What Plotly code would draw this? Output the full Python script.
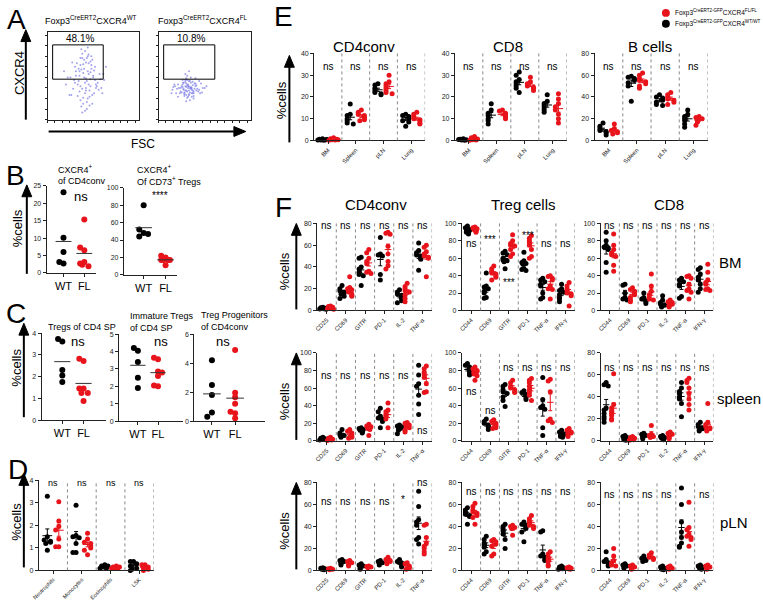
import plotly.graph_objects as go
import numpy as np

W, H = 763, 606
RED = '#e8141c'
BLK = '#000000'
FONT = 'Arial, Liberation Sans, sans-serif'

# ---------------- DATA ----------------
# Panel A flow dots (% of axis range)
flow_wt_x = [30, 35, 38, 42, 45, 48, 40, 36, 44, 50, 52, 33, 28, 47, 41, 39, 55, 43, 37, 46,
             49, 34, 31, 53, 44, 40, 38, 42, 36, 48, 45, 51, 29, 43, 39, 47, 35, 41, 57, 26,
             25, 32, 37, 43, 49, 54, 58, 46, 39, 34, 30, 42, 47, 52, 36, 41, 45, 50, 38, 44,
             33, 48, 53, 40, 35, 46, 42, 37, 51, 44, 39, 31, 56, 47, 43, 36, 49, 41, 45, 38,
             20, 62, 18, 60, 24, 64, 22, 59, 27, 61]
flow_wt_y = [60, 55, 70, 65, 52, 58, 48, 62, 72, 50, 45, 40, 35, 38, 30, 25, 42, 20, 15, 33,
             28, 44, 50, 36, 55, 68, 75, 47, 22, 62, 40, 30, 45, 12, 53, 66, 32, 78, 52, 28,
             48, 64, 57, 44, 68, 38, 46, 26, 18, 58, 42, 36, 54, 60, 70, 10, 64, 48, 35, 82,
             27, 72, 40, 58, 50, 16, 33, 80, 56, 24, 63, 55, 34, 46, 70, 38, 18, 42, 74, 8,
             40, 45, 55, 30, 28, 60, 48, 36, 65, 52]
flow_fl_x = [20, 25, 28, 30, 32, 35, 38, 40, 27, 33, 36, 22, 29, 31, 34, 37, 42, 45, 24, 26,
             30, 33, 38, 41, 35, 28, 31, 36, 48, 18, 23, 39, 44, 29, 34, 32, 27, 37, 30, 33,
             26, 30, 34, 29, 33, 37, 25, 31, 35, 39, 28, 32, 36, 40, 43, 21, 27, 31, 35, 38,
             24, 29, 33, 30, 34, 28, 36, 41, 32, 26, 30, 35, 37, 46, 19, 33, 29, 31, 38, 27,
             15, 50, 17, 47, 14, 52, 44, 21, 40, 16]
flow_fl_y = [35, 38, 30, 33, 40, 36, 32, 38, 42, 28, 34, 36, 45, 25, 31, 43, 35, 30, 32, 40,
             37, 44, 27, 33, 48, 29, 39, 26, 36, 38, 30, 41, 34, 52, 22, 36, 35, 30, 47, 38,
             37, 41, 36, 33, 29, 39, 31, 45, 42, 35, 27, 38, 30, 41, 32, 40, 34, 50, 37, 24,
             36, 43, 33, 28, 44, 31, 36, 39, 26, 45, 21, 35, 33, 41, 30, 55, 38, 32, 30, 42,
             34, 36, 40, 31, 30, 38, 44, 26, 47, 37]
gate_pct = ['48.1%', '10.8%']

# Panel B
b1_wt = [23.2, 10.1, 6.0, 2.7, 3.1]
b1_fl = [15.3, 6.5, 7.3, 3.1, 2.7, 1.9, 2.3]
b2_wt = [80, 48, 44, 52, 47]
b2_fl = [20, 22, 17, 17, 17, 17, 11]
# Panel C
c1_wt = [3.62, 3.73, 2.3, 2.05, 1.75]
c1_fl = [2.72, 2.82, 1.45, 1.45, 1.25, 1.25, 0.88]
c2_wt = [4.05, 4.2, 3.4, 2.5, 1.9]
c2_fl = [3.55, 3.65, 2.85, 2.6, 2.0, 2.05, 2.8]
c3_wt = [4.2, 2.5, 1.8, 0.6, 0.3]
c3_fl = [4.9, 1.95, 1.65, 1.2, 0.55, 0.65, 0.2]
# Panel D
d_cats = ['Neutrophils', 'Monocytes', 'Eosinophils', 'LSK']
d_wt = [[3.3, 1.5, 1.35, 1.3, 1.25, 1.2, 0.9],
        [2.9, 1.55, 1.5, 1.45, 1.2, 0.8, 0.8],
        [0.25, 0.2, 0.2, 0.15, 0.1, 0.1],
        [0.4, 0.4, 0.3, 0.2, 0.1, 0.0, 0.05]]
d_fl = [[3.05, 2.2, 1.95, 1.8, 1.4, 1.05, 1.05],
        [1.65, 1.4, 1.25, 1.2, 1.1, 1.0, 0.9, 0.7],
        [0.2, 0.15, 0.15, 0.1, 0.1, 0.1],
        [0.25, 0.25, 0.15, 0.1, 0.05, 0.0]]
# Panel E
e_cats = ['BM', 'Spleen', 'pLN', 'Lung']
e_cd4_wt = [[0.8, 0.5, 0.3, 0.2, 0.1, 0.2, 0.4], [16.7, 12, 11.5, 10, 9, 8, 7.5],
            [26, 25.5, 24, 23, 22, 21.5, 21], [12, 11.5, 11, 10, 9, 8.5, 6.5]]
e_cd4_fl = [[1.2, 0.8, 0.5, 0.3, 0.2, 0.1, 0.3], [14, 13, 12, 11.5, 10.5, 10, 9.5, 9],
            [30, 27, 26, 25, 24, 23, 22, 21.5], [13, 12, 11, 10, 9.5, 9, 8, 7.5]]
e_cd8_wt = [[0.8, 0.5, 0.3, 0.2, 0.1, 0.4], [16.8, 14, 12.5, 11.5, 10, 9, 7.5],
            [31.5, 30, 28, 27, 26, 25, 24, 22], [21, 18, 17, 16, 15, 14, 13]]
e_cd8_fl = [[1.8, 1.2, 0.6, 0.3, 0.2, 0.1], [14, 13.5, 12.5, 12, 11, 10.5, 10],
            [29, 27, 26, 25, 24.5, 24, 23], [21.5, 19, 17, 15.5, 14, 12, 10, 8]]
e_b_wt = [[16, 13, 11, 9, 8, 7, 5], [59, 58, 57, 55, 53, 50, 36],
          [42, 40, 39, 37, 35, 33, 32], [28, 24, 22, 20, 18, 15, 12]]
e_b_fl = [[15, 11, 9, 8, 7, 6], [62, 60, 57, 55, 54, 52, 50, 48],
          [44, 42, 40, 38, 37, 35, 33], [22, 21, 20, 19, 18, 17, 14]]
# Panel F categories
f_cats_cd4 = ['CD25', 'CD69', 'GITR', 'PD-1', 'IL-2', 'TNF-α']
f_cats_treg = ['CD44', 'CD69', 'GITR', 'PD-1', 'TNF-α', 'IFN-γ']
f_cats_cd8 = ['CD44', 'CD69', 'PD-1', 'IL-2', 'TNF-α', 'IFN-γ']
# F - BM
f_bm_cd4_wt = [[3, 2.5, 2, 1.8, 1.5, 1.2, 1], [23, 20, 18, 17, 16, 15, 13, 11],
               [49, 48, 40, 38, 35, 33, 32, 23], [67, 52, 51, 50, 33, 28],
               [19, 17, 15, 14, 12, 11, 9, 7], [62, 55, 53, 51, 50, 48, 47, 37]]
f_bm_cd4_fl = [[4, 3.5, 3, 2.5, 2, 1.5, 1], [31, 21, 20, 19, 18, 17, 15, 14, 13],
               [56, 53, 48, 45, 43, 36, 35, 34], [72, 71, 70, 59, 52, 45, 41, 38],
               [25, 22, 20, 18, 17, 14, 11, 8], [60, 58, 54, 52, 50, 49, 48, 31]]
f_bm_treg_wt = [[97, 95, 93, 92, 91, 90, 89, 88], [43, 28, 27, 25, 22, 20, 15, 14],
                [68, 66, 64, 60, 58, 57, 56, 48], [67, 57, 55, 54, 53, 48, 47, 46],
                [37, 35, 33, 30, 28, 20, 15, 13], [30, 25, 23, 21, 18, 15, 13, 10]]
f_bm_treg_fl = [[96, 95, 94, 93, 92, 91, 90], [51, 48, 45, 43, 42, 40, 38, 35],
                [87, 80, 77, 75, 74, 70, 65, 62], [86, 83, 80, 78, 75, 70, 62, 60],
                [40, 39, 37, 35, 28, 25, 24, 13], [32, 28, 25, 23, 20, 19, 17, 5]]
f_bm_cd8_wt = [[90, 80, 75, 73, 72, 70, 55, 44], [30, 29, 20, 15, 13, 12],
               [20, 15, 13, 11, 10, 8], [17, 12, 9, 7, 6, 5, 4],
               [37, 35, 33, 30, 28, 16, 14], [49, 47, 42, 38, 35, 30, 25, 21]]
f_bm_cd8_fl = [[88, 75, 70, 66, 64, 62, 52, 45], [26, 24, 22, 20, 18, 15, 12, 10],
               [42, 28, 22, 18, 15, 13, 12], [12, 10, 9, 7, 6, 5, 4],
               [40, 39, 37, 30, 25, 23, 21, 13], [53, 44, 35, 32, 30, 25, 24, 23]]
# F - spleen
f_sp_cd4_wt = [[4, 3, 2.5, 2, 1.5, 1], [13, 9, 7, 6, 5, 4], [15, 14, 13, 12, 11, 10, 9],
               [37, 33, 28, 26, 25, 22, 15], [18, 17, 16, 15, 14, 12, 8],
               [86, 75, 65, 62, 52, 42, 30]]
f_sp_cd4_fl = [[4, 3, 2, 1.5, 1, 0.5], [13, 11, 9, 7, 5, 4, 3], [19, 17, 16, 15, 14, 13, 6],
               [43, 35, 33, 30, 28, 25, 15], [21, 20, 18, 17, 15, 12, 10],
               [85, 82, 78, 76, 72, 65, 56, 55]]
f_sp_treg_wt = [[88, 86, 84, 82, 80, 78, 76, 75], [25, 22, 20, 18, 16, 15, 13],
                [64, 62, 58, 56, 54, 50, 46, 39], [57, 55, 53, 51, 49, 47],
                [72, 47, 40, 38, 36, 15, 6], [12, 10, 8, 7, 6, 5, 4]]
f_sp_treg_fl = [[84, 82, 80, 79, 78, 76, 74, 69], [24, 22, 20, 18, 17, 15, 14],
                [69, 66, 62, 60, 58, 56, 55], [71, 69, 66, 62, 58, 55, 52, 46],
                [70, 68, 56, 25, 23, 21], [14, 12, 10, 9, 8, 7, 5]]
f_sp_cd8_wt = [[53, 51, 50, 30, 28, 25, 22, 20, 17], [5, 4, 3, 2, 1, 0.5], [7, 6, 5, 4, 3, 2],
               [5, 4, 3, 2.5, 2, 1], [53, 48, 45, 43, 40, 38, 34, 22], [17, 15, 13, 12, 11, 10, 9]]
f_sp_cd8_fl = [[61, 33, 30, 27, 25, 23, 20, 19], [4, 3, 2.5, 2, 1, 0.5], [14, 6, 5, 4, 3],
               [8, 7, 6, 5, 4, 3, 2], [57, 55, 53, 48, 43, 38, 33, 28],
               [34, 17, 15, 13, 12, 11, 10, 9]]
# F - pLN
f_ln_cd4_wt = [[2.5, 2, 1.5, 1, 0.5], [10, 9, 8, 7, 6, 5], [6, 5, 4, 3, 2, 1], [9, 8, 7, 6, 5],
               [10, 8, 7, 6, 4, 3], [72, 58, 46, 44, 41, 30, 28, 24]]
f_ln_cd4_fl = [[2, 1.5, 1, 0.5], [9, 8, 7, 6, 5, 4], [4, 3.5, 3, 2.5], [12, 10, 9, 8, 7, 6],
               [7, 6, 4, 3, 2, 1], [42, 41, 30, 25, 22, 20, 17, 15]]
f_ln_treg_wt = [[57, 55, 53, 51, 50, 49, 42], [31, 28, 25, 23, 21, 17, 15],
                [42, 40, 38, 36, 33, 28, 20], [44, 42, 41, 40, 38, 35, 26],
                [36, 35, 15, 13, 12, 10, 9], [4, 3, 2.5, 2, 1.5, 1]]
f_ln_treg_fl = [[61, 58, 55, 53, 52, 50, 48, 42], [28, 27, 26, 24, 22, 15, 13],
                [41, 40, 39, 38, 32], [50, 47, 45, 43, 41, 40, 38],
                [17, 15, 12, 10, 8, 5, 4], [3, 2.5, 2, 1.5, 1]]
f_ln_cd8_wt = [[17, 10, 8, 7, 5, 4], [6, 5, 4, 3, 2], [13, 11, 10, 9, 8], [4, 3, 2, 1, 0.5],
               [75, 60, 44, 35, 30, 25, 22, 21], [5, 4, 3, 2.5, 2, 1]]
f_ln_cd8_fl = [[20, 13, 9, 7, 5, 4], [5, 4, 3, 2, 1], [16, 14, 12, 11, 10], [4, 3, 2, 1],
               [62, 39, 37, 33, 31, 30, 28, 22], [5, 4, 3, 2, 1]]

# ---------------- FIGURE ----------------
layout = dict(width=W, height=H, margin=dict(l=0, r=0, t=0, b=0),
              paper_bgcolor='white', plot_bgcolor='white', showlegend=False,
              font=dict(family=FONT, color='black'), hovermode=False)
annotations, shapes, traces = [], [], []
count = [0]


def px(x):
    return x / W


def py(y):
    return 1 - y / H


def new_axes(x0, x1, ytop, ybot, xr, yr, xkw=None, ykw=None):
    count[0] += 1
    i = count[0]
    s = '' if i == 1 else str(i)
    xa = dict(domain=[px(x0), px(x1)], range=xr, anchor='y' + s, showgrid=False,
              zeroline=False, showline=True, linecolor='#222', linewidth=1,
              ticks='outside', ticklen=3, tickcolor='#222',
              tickfont=dict(size=6, color='#222'), fixedrange=True)
    ya = dict(domain=[py(ybot), py(ytop)], range=yr, anchor='x' + s, showgrid=False,
              zeroline=False, showline=True, linecolor='#222', linewidth=1,
              ticks='outside', ticklen=3, tickcolor='#222',
              tickfont=dict(size=7, color='#222'), fixedrange=True)
    if xkw:
        xa.update(xkw)
    if ykw:
        ya.update(ykw)
    layout['xaxis' + s] = xa
    layout['yaxis' + s] = ya
    return 'x' + s, 'y' + s


def text(x, y, t, size, **kw):
    d = dict(x=px(x), y=py(y), xref='paper', yref='paper', text=t, showarrow=False,
             font=dict(size=size, family=FONT, color='black'), xanchor='center', yanchor='middle')
    d.update(kw)
    annotations.append(d)


def v_arrow(x, ytip, ybot):
    shapes.append(dict(type='line', xref='paper', yref='paper', x0=px(x), x1=px(x),
                       y0=py(ytip + 11), y1=py(ybot), line=dict(color='black', width=2)))
    shapes.append(dict(type='path', xref='paper', yref='paper', fillcolor='black',
                       line=dict(color='black', width=1),
                       path=f'M {px(x-5)},{py(ytip+12)} L {px(x)},{py(ytip)} L {px(x+5)},{py(ytip+12)} Z'))


def swarm(vals, center, d, thresh):
    pattern = [0, -1, 1, -0.5, 0.5, -1.5, 1.5, -2, 2]
    xs, placed = [], []
    for v in vals:
        k = sum(1 for p in placed if abs(p - v) < thresh)
        placed.append(v)
        xs.append(center + pattern[min(k, len(pattern) - 1)] * d)
    return xs


def grouped(xa, ya, cats, wt, fl, ymax, ann, msize=5, ns_size=10):
    n = len(cats)
    for lst, off, col in ((wt, 0.3, BLK), (fl, 0.7, RED)):
        xs, ys, mx, my, ex, ey, es = [], [], [], [], [], [], []
        for i, vals in enumerate(lst):
            c = i + off
            xs += swarm(vals, c, 0.11, ymax * 0.05)
            ys += vals
            m = float(np.mean(vals))
            se = float(np.std(vals, ddof=1) / np.sqrt(len(vals)))
            mx += [c - 0.17, c + 0.17, None]
            my += [m, m, None]
            ex.append(c)
            ey.append(m)
            es.append(se)
        traces.append(go.Scatter(x=xs, y=ys, mode='markers', xaxis=xa, yaxis=ya, cliponaxis=False,
                                 marker=dict(color=col, size=msize, line=dict(width=0))))
        traces.append(go.Scatter(x=mx, y=my, mode='lines', xaxis=xa, yaxis=ya, cliponaxis=False,
                                 line=dict(color=col, width=1)))
        traces.append(go.Scatter(x=ex, y=ey, mode='markers', xaxis=xa, yaxis=ya, cliponaxis=False,
                                 marker=dict(size=1, color=col, opacity=0),
                                 error_y=dict(type='data', array=es, color=col, thickness=1, width=2)))
    for i in range(1, n + 1):
        shapes.append(dict(type='line', xref=xa, yref=ya + ' domain', x0=i, x1=i, y0=0, y1=1,
                           line=dict(color='#888', width=1, dash='dot')))
    for i, (t, yv) in enumerate(ann):
        annotations.append(dict(x=i + 0.5, y=yv, xref=xa, yref=ya, text=t, showarrow=False,
                                font=dict(size=ns_size, family=FONT, color='black'),
                                xanchor='center', yanchor='middle'))


# ---------- Panel letters ----------
for L, x, y in (('A', 10, 16), ('B', 9, 173), ('C', 9, 313), ('D', 11, 471), ('E', 279, 13), ('F', 279, 206)):
    text(x, y, L, 28)

# ---------- Panel A ----------
for k, (x0, x1, fx, fy, title, lab) in enumerate((
        (41, 133, flow_wt_x, flow_wt_y, 'Foxp3<sup>CreERT2</sup>CXCR4<sup>WT</sup>', gate_pct[0]),
        (153, 246, flow_fl_x, flow_fl_y, 'Foxp3<sup>CreERT2</sup>CXCR4<sup>FL</sup>', gate_pct[1]))):
    xa, ya = new_axes(x0, x1, 28, 117, [0, 100], [0, 100],
                      dict(mirror=True, showticklabels=False, dtick=8, ticklen=2),
                      dict(mirror=True, showticklabels=False, dtick=12, ticklen=2))
    traces.append(go.Scatter(x=fx, y=fy, mode='markers', xaxis=xa, yaxis=ya,
                             marker=dict(color='#7a7ae6', size=2, opacity=0.7)))
    shapes.append(dict(type='rect', xref=xa, yref=ya, x0=5.5, x1=61, y0=46, y1=85,
                       line=dict(color='black', width=1)))
    annotations.append(dict(x=35, y=92, xref=xa, yref=ya, text=lab, showarrow=False,
                            font=dict(size=10, family=FONT), xanchor='center', yanchor='middle'))
    text((x0 + x1) / 2 - 2, 16, title, 9)
v_arrow(19, 26, 117)
text(12, 70, 'CXCR4', 13, textangle=-90)
shapes.append(dict(type='line', xref='paper', yref='paper', x0=px(42), x1=px(229), y0=py(129), y1=py(129),
                   line=dict(color='black', width=2)))
shapes.append(dict(type='path', xref='paper', yref='paper', fillcolor='black', line=dict(color='black', width=1),
                   path=f'M {px(229)},{py(124)} L {px(241)},{py(129)} L {px(229)},{py(134)} Z'))
text(137, 142, 'FSC', 12)


# ---------- Panels B & C ----------
def wtfl(x0, x1, ytop, ybot, xr, ymax, dtick, wt, fl, lines, tx, ns, nsx, nsy, ns_size=13):
    xa, ya = new_axes(x0, x1, ytop, ybot, xr, [0, ymax],
                      dict(tickvals=[0, 1], ticktext=['WT', 'FL'], tickfont=dict(size=11, color='black')),
                      dict(dtick=dtick, tickfont=dict(size=7, color='#222')))
    for vals, c, col in ((wt, 0, BLK), (fl, 1, RED)):
        traces.append(go.Scatter(x=swarm(vals, c, 0.2, ymax * 0.05), y=vals, mode='markers',
                                 xaxis=xa, yaxis=ya, cliponaxis=False,
                                 marker=dict(color=col, size=6)))
        m = float(np.mean(vals))
        traces.append(go.Scatter(x=[c - 0.38, c + 0.38], y=[m, m], mode='lines', xaxis=xa, yaxis=ya,
                                 line=dict(color='#333', width=1)))
    for t, ty in lines:
        text(tx, ty, t, 9, xanchor='left')
    text(nsx, nsy, ns, ns_size)


wtfl(40, 90, 184, 272, [-0.81, 1.57], 25, 5, b1_wt, b1_fl,
     [('CXCR4<sup>+</sup>', 167), ('of CD4conv', 179)], 49, 'ns', 75, 195)
wtfl(118, 172, 186, 274, [-0.9, 1.54], 100, 20, b2_wt, b2_fl,
     [('CXCR4<sup>+</sup>', 167), ('Of CD73<sup>+</sup> Tregs', 179)], 129, '****', 154, 194, 10)
v_arrow(20, 183, 273)
text(10, 227, '%cells', 13, textangle=-90)

wtfl(35, 100, 333, 421, [-0.97, 2.06], 4, 1, c1_wt, c1_fl, [('Tregs of CD4 SP', 327)], 39, 'ns', 72, 341)
wtfl(113, 178, 334, 422, [-0.94, 2.26], 5, 1, c2_wt, c2_fl,
     [('Immature Tregs', 316), ('of CD4 SP', 328)], 122, 'ns', 155, 341)
wtfl(189, 260, 334, 422, [-0.76, 2.27], 6, 2, c3_wt, c3_fl,
     [('Treg Progenitors', 315), ('of CD4conv', 327)], 194, 'ns', 218, 341)
v_arrow(17, 323, 418)
text(10, 368, '%cells', 13, textangle=-90)

# ---------- Panel D ----------
xa, ya = new_axes(32, 148, 482, 573, [0, 4], [0, 4],
                  dict(tickvals=[0.5, 1.5, 2.5, 3.5], ticktext=d_cats, tickangle=-45,
                       tickfont=dict(size=5.5, color='#222')),
                  dict(dtick=1))
grouped(xa, ya, d_cats, d_wt, d_fl, 4, [('ns', 3.87)] * 4, msize=5, ns_size=9)
v_arrow(17, 475, 570)
text(10, 524, '%cells', 13, textangle=-90)

# ---------- Panel E ----------
e_specs = [(310, 422, 40, 10, e_cd4_wt, e_cd4_fl, 'CD4conv', 360),
           (452, 565, 40, 10, e_cd8_wt, e_cd8_fl, 'CD8', 506),
           (593, 707, 80, 20, e_b_wt, e_b_fl, 'B cells', 649)]
for x0, x1, ymax, dt, wt, fl, title, tx in e_specs:
    xa, ya = new_axes(x0, x1, 50, 138, [0, 4], [0, ymax],
                      dict(tickvals=[0.5, 1.5, 2.5, 3.5], ticktext=e_cats, tickangle=-45,
                           tickfont=dict(size=6, color='#222')),
                      dict(dtick=dt))
    grouped(xa, ya, e_cats, wt, fl, ymax, [('ns', ymax * 0.85)] * 4, msize=5, ns_size=10)
    text(tx, 43, title, 15)
v_arrow(285, 52, 140)
text(277, 97, '%cells', 13, textangle=-90)
# legend
for yy, col, lab in ((9, RED, 'Foxp3<sup>CreERT2-GFP</sup>CXCR4<sup>FL/FL</sup>'),
                     (20, BLK, 'Foxp3<sup>CreERT2-GFP</sup>CXCR4<sup>WT/WT</sup>')):
    shapes.append(dict(type='circle', xref='paper', yref='paper', x0=px(661), x1=px(669),
                       y0=py(yy + 4), y1=py(yy - 4), fillcolor=col, line=dict(color=col, width=0)))
    text(672, yy, lab, 6.5, xanchor='left')

# ---------- Panel F ----------
f_cols = [(313, 429), (459, 573), (599, 713)]
f_rows = [(222, 310), (353, 442), (484, 573)]
f_titles = [('CD4conv', 372), ('Treg cells', 521), ('CD8', 668)]
for t, x in f_titles:
    text(x, 203, t, 15)
f_plots = [
    [(f_cats_cd4, f_bm_cd4_wt, f_bm_cd4_fl, 80, [('ns', 78)] * 6),
     (f_cats_treg, f_bm_treg_wt, f_bm_treg_fl, 100,
      [('ns', 77), ('***', 81), ('***', 32), ('***', 86), ('ns', 77), ('ns', 77)]),
     (f_cats_cd8, f_bm_cd8_wt, f_bm_cd8_fl, 100, [('ns', 98)] * 6)],
    [(f_cats_cd4, f_sp_cd4_wt, f_sp_cd4_fl, 100, [('ns', 74)] * 5 + [('ns', 12)]),
     (f_cats_treg, f_sp_treg_wt, f_sp_treg_fl, 100,
      [('ns', 56), ('ns', 34), ('ns', 83), ('ns', 83), ('ns', 83), ('ns', 83)]),
     (f_cats_cd8, f_sp_cd8_wt, f_sp_cd8_fl, 80, [('ns', 67)] * 6)],
    [(f_cats_cd4, f_ln_cd4_wt, f_ln_cd4_fl, 80, [('ns', 63)] * 4 + [('*', 64), ('ns', 80)]),
     (f_cats_treg, f_ln_treg_wt, f_ln_treg_fl, 80, [('ns', 72)] * 6),
     (f_cats_cd8, f_ln_cd8_wt, f_ln_cd8_fl, 80, [('ns', 69)] * 4 + [('ns', 82), ('ns', 69)])],
]
row_labels = [('BM', 730, 262), ('spleen', 739, 399), ('pLN', 734, 525)]
for r, (ytop, ybot) in enumerate(f_rows):
    for c, (x0, x1) in enumerate(f_cols):
        cats, wt, fl, ymax, ann = f_plots[r][c]
        xa, ya = new_axes(x0, x1, ytop, ybot, [0, 6], [0, ymax],
                          dict(tickvals=[i + 0.5 for i in range(6)], ticktext=cats, tickangle=-45,
                               tickfont=dict(size=6, color='#222')),
                          dict(dtick=20))
        grouped(xa, ya, cats, wt, fl, ymax, ann, msize=5, ns_size=10)
    v_arrow(292, ytop, ybot - 1)
    text(280, (ytop + ybot) / 2 + 4, '%cells', 13, textangle=-90)
    lab, lx, ly = row_labels[r]
    text(lx, ly, lab, 15)

layout['annotations'] = annotations
layout['shapes'] = shapes
fig = go.Figure(data=traces)
fig.update_layout(**layout)
fig.write_html('out.html', config={'displayModeBar': False},
               post_script="document.body.style.margin='0px';")
